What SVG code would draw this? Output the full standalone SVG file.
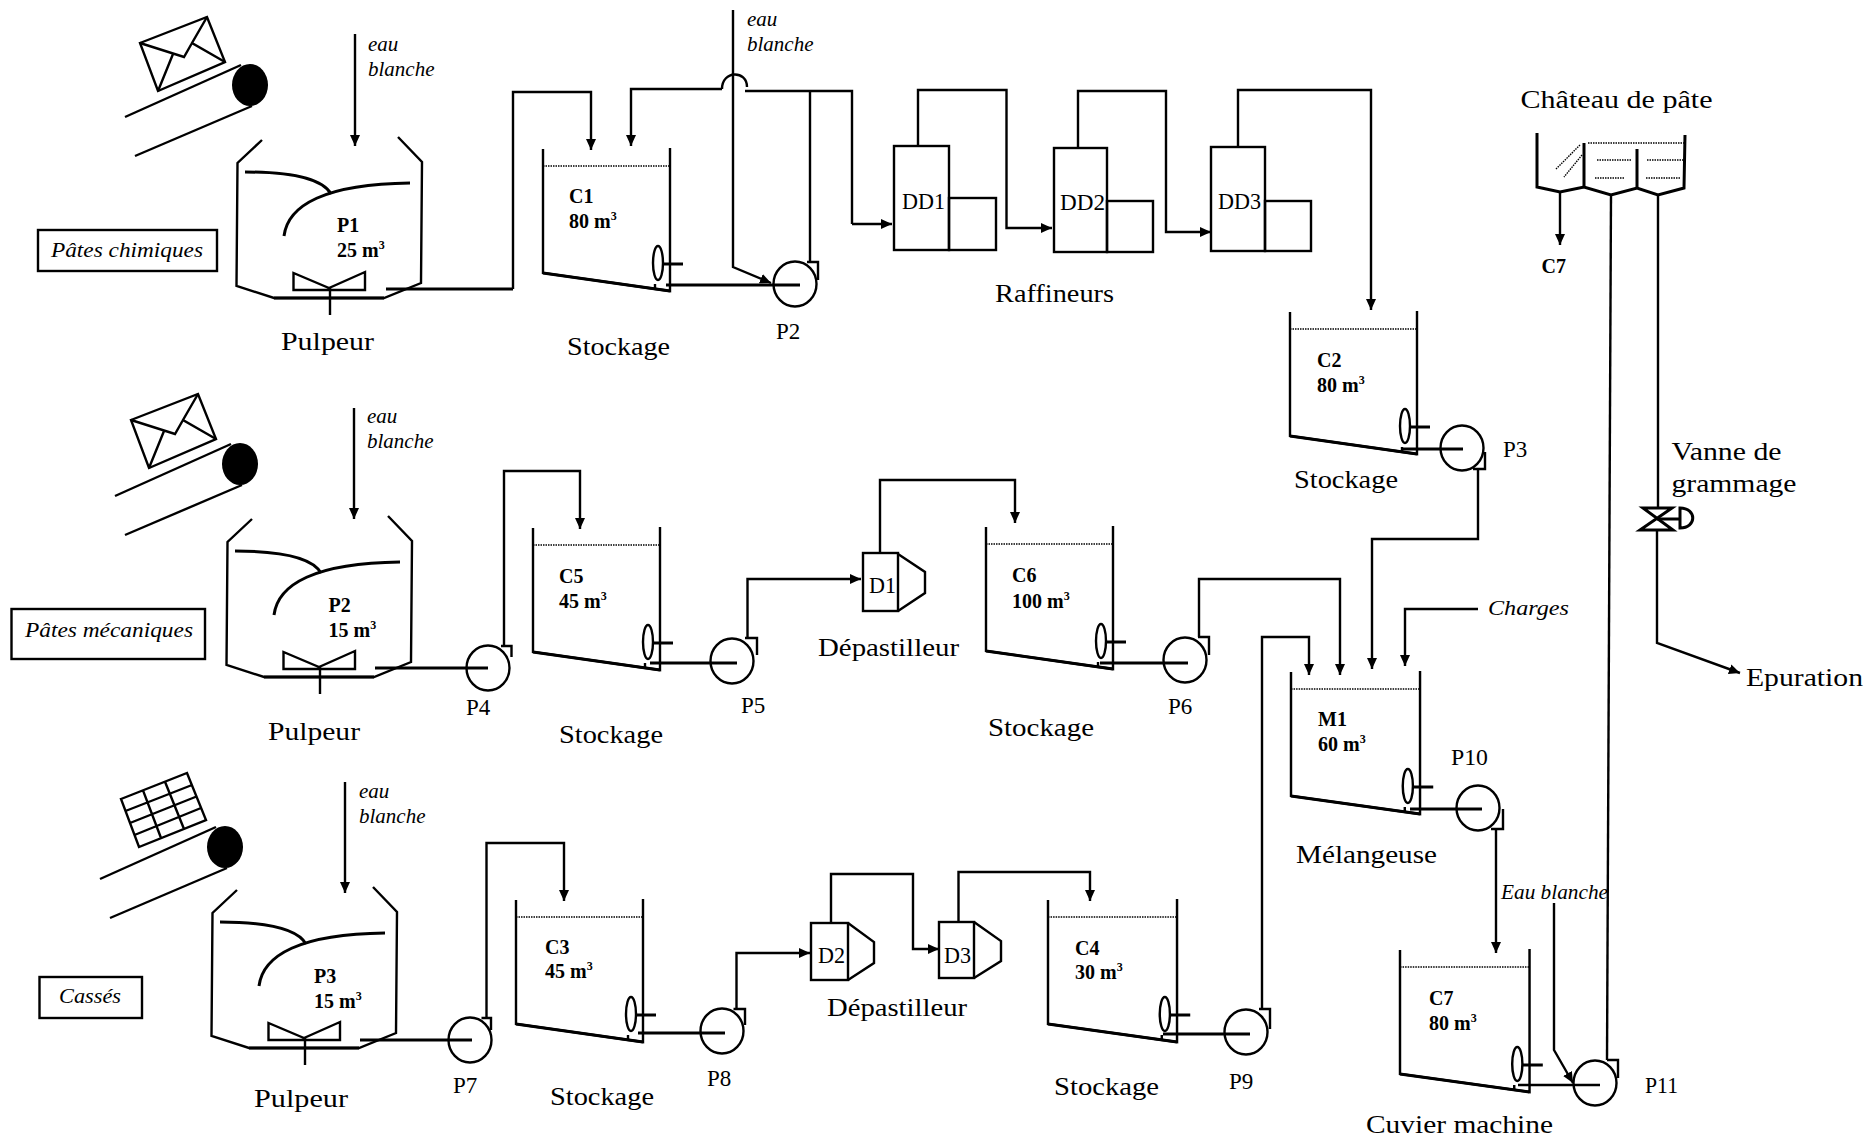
<svg xmlns="http://www.w3.org/2000/svg" xmlns:xlink="http://www.w3.org/1999/xlink" width="1869" height="1139" viewBox="0 0 1869 1139">
<style>
.l{fill:none;stroke:#000;stroke-width:2.4}
.t{fill:none;stroke:#000;stroke-width:3}
.d{fill:none;stroke:#000;stroke-width:1.4;stroke-dasharray:1.5 1}
.a{fill:none;stroke:#000;stroke-width:2.4;marker-end:url(#ah)}
text{font-family:"Liberation Serif","Times New Roman",serif;fill:#000}
.lg{font-size:26px}
.md{font-size:23px}
.b{font-size:20px;font-weight:bold}
.i{font-size:21px;font-style:italic}
.s{font-size:12px}
</style>
<defs>
<marker id="ah" markerUnits="userSpaceOnUse" markerWidth="12" markerHeight="12" refX="11" refY="5.5" orient="auto"><path d="M0,0.5L11,5.5L0,10.500Z" fill="#000"/></marker>
<g id="pulper">
<path class="l" d="M262,140L237.5,163L236.5,286L274,298H384L421,283L422,162L398,137"/>
<path class="t" d="M274,298H384"/>
<path class="t" d="M245,172C290,172 322,178 331,194"/>
<path class="t" d="M284,236C288,205 325,184 410,183"/>
<path class="l" d="M293.5,273V290H365V272L329,288Z"/>
<path class="l" d="M330,288V315"/>
</g>
<g id="conveyor">
<path class="l" d="M125,117L241,65"/>
<path class="l" d="M135,156L252,106"/>
<ellipse cx="250" cy="85" rx="18" ry="21" fill="#000"/>
</g>
<g id="envelope">
<path class="l" d="M140,43L207,17L225,62L158,91Z"/>
<path class="l" d="M140,43L184,57L192,43M207,17L192,43L225,62M173,54L158,91"/>
</g>
<g id="tank">
<path class="l" d="M0,0V124L127,142V-1"/>
<path class="t" d="M0,124L127,142"/>
<path class="d" d="M0,17H127"/>
<ellipse class="l" cx="115" cy="114" rx="5" ry="17"/>
<path class="t" d="M120,115H140"/>
<path class="l" d="M112,135V140"/>
</g>
<g id="pump"><ellipse class="l" cx="0" cy="0" rx="21.5" ry="22.5"/></g>
</defs>

<g id="connectors">
<path class="a" d="M355,34V146"/>
<path class="t" d="M386,289H513"/>
<path class="a" d="M513,289V92H591V150"/>
<path class="a" d="M733,10V267L771,283"/>
<path class="a" d="M722,89H631V146"/>
<path class="l" d="M722,89C722,70 747,70 747,87"/>
<path class="l" d="M745,91H852V224"/>
<path class="a" d="M852,224H892"/>
<path class="l" d="M810,262V91"/>
<path class="t" d="M666,285H800"/>
<path class="a" d="M918,146V90H1006.5V228H1052"/>
<path class="a" d="M1078,148V91H1166V232H1211"/>
<path class="a" d="M1238,147V90H1371V310"/>
<path class="t" d="M1403,449H1463"/>

<path class="a" d="M354,408V519"/>
<path class="t" d="M375,668H488"/>
<path class="a" d="M504,646V471H580V529"/>
<path class="t" d="M650,663H737"/>
<path class="a" d="M747.5,638V579H861"/>
<path class="a" d="M880,553V480H1015V523"/>
<path class="t" d="M1100,663H1188"/>
<path class="a" d="M1199,637V579H1340V675"/>
<path class="a" d="M1478,469V539H1372V669"/>
<path class="a" d="M1478,609H1405V666"/>
<path class="a" d="M1262,1009V637H1309V675"/>

<path class="a" d="M345,782V893"/>
<path class="t" d="M360,1040H472"/>
<path class="a" d="M486.5,1018V843H564V901"/>
<path class="t" d="M638,1033H725"/>
<path class="a" d="M736.5,1009V953H810"/>
<path class="a" d="M831,923V874H913V949H939"/>
<path class="a" d="M958.5,922V872H1090V901"/>
<path class="t" d="M1163,1034H1250"/>
<path class="t" d="M1410,809H1482"/>
<path class="a" d="M1496,829V953"/>
<path class="a" d="M1554,903V1050L1573,1083"/>
<path class="l" d="M1518,1085H1600"/>
<path class="a" d="M1560,192V245"/>
<path class="l" d="M1611,195L1607,1060"/>
<path class="l" d="M1658,195V508"/>
<path class="a" d="M1657,530V643L1740,673"/>
</g>

<g id="pates-chimiques"><rect class="l" x="38" y="230" width="179" height="41"/><text class="i" x="127" y="257" text-anchor="middle" textLength="152" lengthAdjust="spacingAndGlyphs">Pâtes chimiques</text></g>
<g id="pates-mecaniques"><rect class="l" x="11.5" y="609" width="193.5" height="50"/><text class="i" x="109" y="637" text-anchor="middle" textLength="168" lengthAdjust="spacingAndGlyphs">Pâtes mécaniques</text></g>
<g id="casses"><rect class="l" x="39.5" y="977" width="102.5" height="41"/><text class="i" x="90" y="1003" text-anchor="middle" textLength="62" lengthAdjust="spacingAndGlyphs">Cassés</text></g>

<g id="conveyor-1"><use href="#conveyor"/><use href="#envelope"/></g>
<g id="conveyor-2"><use href="#conveyor" transform="translate(-10,379)"/><use href="#envelope" transform="translate(-9,377)"/></g>
<g id="conveyor-3"><use href="#conveyor" transform="translate(-25,762)"/>
<path class="l" d="M121,799L187,773L206,820L139,847ZM143,790.3L161,838M165,781.7L184,829M125.500,811L192,785M130,823L196.500,796.500M134.500,835L201,808"/></g>

<g id="pulper-p1"><use href="#pulper"/><text class="b" x="337" y="232">P1</text><text class="b" x="337" y="257">25 m<tspan class="s" dy="-8">3</tspan></text><text class="lg" x="281" y="350" textLength="93" lengthAdjust="spacingAndGlyphs">Pulpeur</text></g>
<g id="pulper-p2"><use href="#pulper" transform="translate(-10,379)"/><text class="b" x="328.500" y="612">P2</text><text class="b" x="328.500" y="637">15 m<tspan class="s" dy="-8">3</tspan></text><text class="lg" x="268" y="740" textLength="92" lengthAdjust="spacingAndGlyphs">Pulpeur</text></g>
<g id="pulper-p3"><use href="#pulper" transform="translate(-25,750)"/><text class="b" x="314" y="983">P3</text><text class="b" x="314" y="1008">15 m<tspan class="s" dy="-8">3</tspan></text><text class="lg" x="254" y="1107" textLength="94" lengthAdjust="spacingAndGlyphs">Pulpeur</text></g>

<g id="eau-1"><text class="i" x="368" y="51">eau</text><text class="i" x="368" y="76">blanche</text></g>
<g id="eau-2"><text class="i" x="747" y="26">eau</text><text class="i" x="747" y="51">blanche</text></g>
<g id="eau-3"><text class="i" x="367" y="423">eau</text><text class="i" x="367" y="448">blanche</text></g>
<g id="eau-4"><text class="i" x="359" y="798">eau</text><text class="i" x="359" y="823">blanche</text></g>

<g id="tank-c1"><use href="#tank" x="543" y="149"/><text class="b" x="569" y="203">C1</text><text class="b" x="569" y="228">80 m<tspan class="s" dy="-8">3</tspan></text><text class="lg" x="567" y="355" textLength="103" lengthAdjust="spacingAndGlyphs">Stockage</text></g>
<g id="tank-c2"><use href="#tank" x="1290" y="312"/><text class="b" x="1317" y="367">C2</text><text class="b" x="1317" y="392">80 m<tspan class="s" dy="-8">3</tspan></text><text class="lg" x="1294" y="488" textLength="104" lengthAdjust="spacingAndGlyphs">Stockage</text></g>
<g id="tank-c5"><use href="#tank" x="533" y="528"/><text class="b" x="559" y="583">C5</text><text class="b" x="559" y="608">45 m<tspan class="s" dy="-8">3</tspan></text><text class="lg" x="559" y="743" textLength="104" lengthAdjust="spacingAndGlyphs">Stockage</text></g>
<g id="tank-c6"><use href="#tank" x="986" y="527"/><text class="b" x="1012" y="582">C6</text><text class="b" x="1012" y="608">100 m<tspan class="s" dy="-8">3</tspan></text><text class="lg" x="988" y="736" textLength="106" lengthAdjust="spacingAndGlyphs">Stockage</text></g>
<g id="tank-c3"><use href="#tank" x="516" y="900"/><text class="b" x="545" y="954">C3</text><text class="b" x="545" y="978">45 m<tspan class="s" dy="-8">3</tspan></text><text class="lg" x="550" y="1105" textLength="104" lengthAdjust="spacingAndGlyphs">Stockage</text></g>
<g id="tank-c4"><use href="#tank" transform="translate(1048,900) scale(1.016,1)"/><text class="b" x="1075" y="955">C4</text><text class="b" x="1075" y="979">30 m<tspan class="s" dy="-8">3</tspan></text><text class="lg" x="1054" y="1095" textLength="105" lengthAdjust="spacingAndGlyphs">Stockage</text></g>
<g id="tank-m1"><use href="#tank" transform="translate(1291,672) scale(1.016,1)"/><text class="b" x="1318" y="726">M1</text><text class="b" x="1318" y="751">60 m<tspan class="s" dy="-8">3</tspan></text><text class="lg" x="1296" y="863" textLength="141" lengthAdjust="spacingAndGlyphs">Mélangeuse</text></g>
<g id="tank-c7"><use href="#tank" transform="translate(1400,950) scale(1.02,1)"/><text class="b" x="1429" y="1005">C7</text><text class="b" x="1429" y="1030">80 m<tspan class="s" dy="-8">3</tspan></text><text class="lg" x="1366" y="1133" textLength="187" lengthAdjust="spacingAndGlyphs">Cuvier machine</text></g>

<g id="pump-p2"><use href="#pump" x="795" y="284"/><path class="l" d="M807,262H818V280"/><text class="md" x="776" y="339">P2</text></g>
<g id="pump-p3"><use href="#pump" x="1462" y="448"/><path class="l" d="M1473,469H1485V452"/><text class="md" x="1503" y="457">P3</text></g>
<g id="pump-p4"><use href="#pump" x="488" y="668"/><path class="l" d="M501,646H511.500V657"/><text class="md" x="466" y="715">P4</text></g>
<g id="pump-p5"><use href="#pump" x="732" y="661"/><path class="l" d="M745,638H757V655"/><text class="md" x="741" y="713">P5</text></g>
<g id="pump-p6"><use href="#pump" x="1185" y="660"/><path class="l" d="M1198,637H1209V655"/><text class="md" x="1168" y="714">P6</text></g>
<g id="pump-p7"><use href="#pump" x="470" y="1040"/><path class="l" d="M481.500,1018H491V1030"/><text class="md" x="453" y="1093">P7</text></g>
<g id="pump-p8"><use href="#pump" x="722" y="1031"/><path class="l" d="M733.500,1009H745V1025"/><text class="md" x="707" y="1086">P8</text></g>
<g id="pump-p9"><use href="#pump" x="1246" y="1032"/><path class="l" d="M1259,1009H1270V1029"/><text class="md" x="1229" y="1089">P9</text></g>
<g id="pump-p10"><use href="#pump" x="1478" y="808"/><path class="l" d="M1491,829H1503V809"/><text class="md" x="1451" y="765" textLength="37" lengthAdjust="spacingAndGlyphs">P10</text></g>
<g id="pump-p11"><use href="#pump" x="1595" y="1083"/><path class="l" d="M1607,1060H1618V1078"/><text class="md" x="1645" y="1093" textLength="33" lengthAdjust="spacingAndGlyphs">P11</text></g>

<g id="raffineur-dd1"><rect class="l" x="894" y="146" width="55" height="104"/><rect class="l" x="949" y="198" width="47" height="52"/><text class="md" x="902" y="209" textLength="43" lengthAdjust="spacingAndGlyphs">DD1</text></g>
<g id="raffineur-dd2"><rect class="l" x="1054" y="148" width="53" height="104"/><rect class="l" x="1107" y="201" width="46" height="51"/><text class="md" x="1060" y="210" textLength="45" lengthAdjust="spacingAndGlyphs">DD2</text></g>
<g id="raffineur-dd3"><rect class="l" x="1211" y="147" width="54" height="104"/><rect class="l" x="1265" y="201" width="46" height="50"/><text class="md" x="1218" y="209" textLength="43" lengthAdjust="spacingAndGlyphs">DD3</text></g>
<text class="lg" x="995" y="302" textLength="119" lengthAdjust="spacingAndGlyphs">Raffineurs</text>

<g id="depastilleur-d1"><rect class="l" x="863" y="553" width="35" height="58"/><path class="l" d="M898,554L925,572V593L898,611"/><text class="md" x="869" y="593" textLength="27" lengthAdjust="spacingAndGlyphs">D1</text><text class="lg" x="818" y="656" textLength="141" lengthAdjust="spacingAndGlyphs">Dépastilleur</text></g>
<g id="depastilleur-d2"><rect class="l" x="811" y="923" width="37" height="57"/><path class="l" d="M848,923L874,942V963L848,980"/><text class="md" x="818" y="963" textLength="27" lengthAdjust="spacingAndGlyphs">D2</text><text class="lg" x="827" y="1016" textLength="140" lengthAdjust="spacingAndGlyphs">Dépastilleur</text></g>
<g id="depastilleur-d3"><rect class="l" x="939" y="922" width="35" height="56"/><path class="l" d="M974,922L1001,941V961L974,978"/><text class="md" x="944" y="963" textLength="27" lengthAdjust="spacingAndGlyphs">D3</text></g>

<g id="chateau">
<path class="t" d="M1537,133V187L1560,192L1584,187L1611,195L1637,188L1658,195L1684,188L1685,135"/>
<path class="t" d="M1584,143V187M1637,149V188"/>
<path class="d" d="M1588,143H1685M1597,160H1632M1647,160H1683M1595,178H1624M1646,178H1680"/>
<path class="d" d="M1580,145L1556,169M1582,155L1564,177"/>
<text class="lg" x="1520.500" y="108" textLength="192" lengthAdjust="spacingAndGlyphs">Château de pâte</text>
<text class="b" x="1541.500" y="272.500">C7</text>
</g>
<g id="vanne">
<path class="t" d="M1643,508H1672L1640,530H1673Z"/>
<path class="t" d="M1657,519H1680"/>
<path class="t" d="M1680,508C1697,508 1697,528 1680,528Z"/>
<text class="lg" x="1671.500" y="460" textLength="110" lengthAdjust="spacingAndGlyphs">Vanne de</text>
<text class="lg" x="1671.500" y="492" textLength="125" lengthAdjust="spacingAndGlyphs">grammage</text>
</g>
<text class="i" x="1488" y="615" textLength="81" lengthAdjust="spacingAndGlyphs">Charges</text>
<text class="i" x="1501" y="899" textLength="107" lengthAdjust="spacingAndGlyphs">Eau blanche</text>
<text class="lg" x="1746" y="686" textLength="117" lengthAdjust="spacingAndGlyphs">Epuration</text>
</svg>
